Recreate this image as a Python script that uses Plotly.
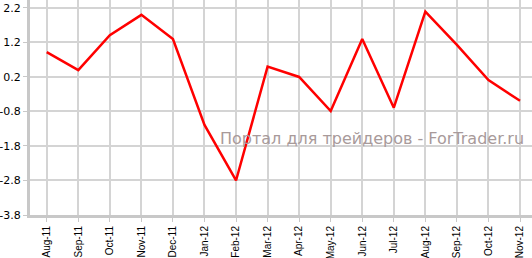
import plotly.graph_objects as go

months = ["Aug-11", "Sep-11", "Oct-11", "Nov-11", "Dec-11", "Jan-12", "Feb-12", "Mar-12",
          "Apr-12", "May-12", "Jun-12", "Jul-12", "Aug-12", "Sep-12", "Oct-12", "Nov-12"]
values = [0.92, 0.40, 1.41, 2.00, 1.30, -1.19, -2.80, 0.50,
          0.20, -0.79, 1.30, -0.69, 2.09, 1.13, 0.11, -0.49]
y_ticks = [2.2, 1.2, 0.2, -0.8, -1.8, -2.8, -3.8]

x_idx = list(range(len(months)))

fig = go.Figure()
fig.add_trace(go.Scatter(
    x=x_idx, y=values, mode="lines",
    line=dict(color="#ff0000", width=2.5),
    hoverinfo="skip",
))

fig.add_annotation(
    text="Портал для трейдеров - ForTrader.ru",
    xref="paper", yref="paper", x=1.0, y=(215 - 138) / 215,
    xanchor="right", yanchor="middle", showarrow=False,
    font=dict(family="DejaVu Sans", size=16, color="#a89a9a"),
    xshift=-6,
)

grid = "#d4d4d4"
fig.update_layout(
    width=532, height=258,
    margin=dict(l=30, r=0, t=0, b=43),
    paper_bgcolor="white", plot_bgcolor="white",
    showlegend=False,
    font=dict(family="DejaVu Sans", size=10, color="#000000"),
    xaxis=dict(
        range=[-0.53, 15.38],
        tickmode="array", tickvals=x_idx, ticktext=months,
        tickangle=-90, automargin=False,
        tickfont=dict(family="Liberation Sans", size=10),
        showgrid=True, gridcolor=grid, gridwidth=2,
        showline=True, linecolor="#c8c8c8", linewidth=3,
        ticks="outside", ticklen=4, tickcolor="#c8c8c8", tickwidth=1,
        zeroline=False, fixedrange=True,
    ),
    yaxis=dict(
        range=[-3.8, 2.43], automargin=False,
        tickmode="array", tickvals=y_ticks, ticktext=[f"{v:.1f}" for v in y_ticks],
        showgrid=True, gridcolor=grid, gridwidth=2,
        showline=True, linecolor="#c8c8c8", linewidth=3,
        ticks="outside", ticklen=4, tickcolor="#c8c8c8", tickwidth=1,
        zeroline=False, fixedrange=True,
        tickfont=dict(size=11),
    ),
)

fig.write_html("out.html", config={"displayModeBar": False})
